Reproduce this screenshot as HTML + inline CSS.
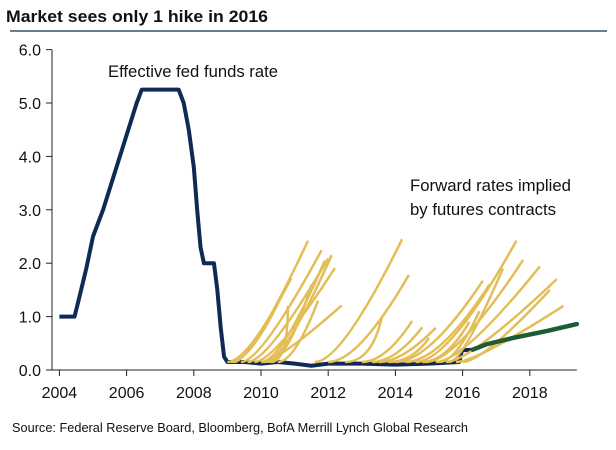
<!DOCTYPE html>
<html><head><meta charset="utf-8"><style>
body{margin:0;background:#fff;}
svg text{font-family:"Liberation Sans",Arial,sans-serif;}
</style></head><body>
<svg width="616" height="445" xmlns="http://www.w3.org/2000/svg">
<text x="6" y="22" font-size="16.5" font-weight="bold" fill="#111" textLength="262" lengthAdjust="spacingAndGlyphs">Market sees only 1 hike in 2016</text>
<line x1="10" y1="31" x2="607" y2="31" stroke="#6a7c92" stroke-width="2"/>
<g id="axes"></g>
<g id="marks"></g>
<text x="108" y="77" font-size="17" fill="#111" textLength="170" lengthAdjust="spacingAndGlyphs">Effective fed funds rate</text>
<text x="410" y="191" font-size="17" fill="#111" textLength="161" lengthAdjust="spacingAndGlyphs">Forward rates implied</text>
<text x="410" y="215" font-size="17" fill="#111" textLength="146" lengthAdjust="spacingAndGlyphs">by futures contracts</text>
<text x="12" y="432" font-size="13" fill="#111" textLength="456" lengthAdjust="spacingAndGlyphs">Source: Federal Reserve Board, Bloomberg, BofA Merrill Lynch Global Research</text>
</svg>
<script>
const yTicks=[0,1,2,3,4,5,6];
const yTickLabels=["0.0","1.0","2.0","3.0","4.0","5.0","6.0"];
const xTicks=[2004,2006,2008,2010,2012,2014,2016,2018];
const xTickLabels=["2004","2006","2008","2010","2012","2014","2016","2018"];
const fedYears=[2004,2004.45,2004.55,2004.8,2005.0,2005.3,2005.6,2005.9,2006.1,2006.3,2006.45,2006.55,2007.0,2007.55,2007.7,2007.85,2008.0,2008.1,2008.2,2008.3,2008.6,2008.7,2008.8,2008.9,2009.0,2009.5,2010.0,2010.5,2011.0,2011.5,2012.0,2013.0,2014.0,2015.0,2015.9,2015.98,2016.3];
const fedValues=[1.0,1.0,1.25,1.9,2.5,3.0,3.6,4.2,4.6,5.0,5.25,5.25,5.25,5.25,5.0,4.5,3.8,3.0,2.3,2.0,2.0,1.5,0.8,0.25,0.15,0.15,0.12,0.15,0.12,0.08,0.12,0.12,0.1,0.12,0.15,0.37,0.38];
const greenYears=[2016.3,2016.7,2017.5,2018.5,2019.4];
const greenValues=[0.38,0.48,0.6,0.73,0.86];
const fwdStart=[2009.0,2009.1,2009.2,2009.4,2009.6,2009.8,2010.0,2010.0,2010.1,2010.2,2010.3,2010.5,2011.6,2012.0,2012.5,2013.0,2013.3,2013.5,2013.8,2014.0,2014.3,2014.6,2014.9,2015.2,2015.5,2015.8,2016.0,2015.6,2015.3,2014.8];
const fwdKnee=[2009.6,2009.7,2009.7,2010.0,2010.2,2010.4,2010.5,2010.6,2010.7,2010.8,2010.8,2011.0,2012.4,2012.9,2013.3,2013.7,2014.0,2014.2,2014.5,2015.0,2015.3,2015.6,2015.8,2016.0,2016.2,2016.4,2016.6,2016.0,2015.8,2015.5];
const fwdEndYear=[2010.9,2010.7,2011.4,2011.8,2012.0,2012.2,2012.4,2011.9,2012.1,2011.5,2010.8,2011.7,2014.2,2014.4,2013.6,2014.5,2014.8,2015.2,2015.0,2016.6,2016.8,2017.6,2017.8,2018.3,2018.8,2019.0,2018.6,2017.2,2016.5,2016.2];
const fwdEndValue=[1.72,1.5,2.42,2.24,2.09,1.91,1.21,2.05,2.15,1.6,1.2,1.3,2.45,1.78,1.0,0.92,0.80,0.79,0.6,1.67,1.6,2.42,2.06,1.94,1.70,1.20,1.5,1.9,1.1,0.9];
const X=y=>59.4+(y-2004)*33.6;
const Y=v=>370-v*53.4;
const NS="http://www.w3.org/2000/svg";
function mk(tag,attrs,parent){const e=document.createElementNS(NS,tag);for(const k in attrs)e.setAttribute(k,attrs[k]);parent.appendChild(e);return e;}
const axes=document.getElementById('axes'),marks=document.getElementById('marks');
const ya=mk('line',{x1:52,y1:Y(6),x2:52,y2:Y(0),stroke:'#222','stroke-width':1},axes);


yTicks.forEach((t,i)=>{
 const l=mk('line',{x1:46,y1:Y(t),x2:52,y2:Y(t),stroke:'#222'},axes);
 
 
 const tx=mk('text',{x:41,y:Y(t)+6,'font-size':16,'text-anchor':'end',fill:'#111'},axes);
 tx.textContent=yTickLabels[i];
 
 
});
const xa=mk('line',{x1:52,y1:Y(0),x2:X(2019.4),y2:Y(0),stroke:'#222','stroke-width':1},axes);


xTicks.forEach((t,i)=>{
 const l=mk('line',{x1:X(t),y1:Y(0),x2:X(t),y2:Y(0)+6,stroke:'#222'},axes);
 
 
 const tx=mk('text',{x:X(t),y:Y(0)+28,'font-size':16,'text-anchor':'middle',fill:'#111'},axes);
 tx.textContent=xTickLabels[i];
 
 
});
const fp=mk('polyline',{points:fedYears.map((y,i)=>X(y)+','+Y(fedValues[i])).join(' '),fill:'none',stroke:'#0f2a55','stroke-width':4,'stroke-linejoin':'round'},marks);


fwdStart.forEach((s,i)=>{
 const base=Y(0.15);
 const d=`M${X(s)},${base} Q${X(fwdKnee[i])},${base} ${X(fwdEndYear[i])},${Y(fwdEndValue[i])}`;
 const p=mk('path',{d:d,fill:'none',stroke:'#e3bd55','stroke-width':2.5},marks);
 
 
});
const gp=mk('polyline',{points:greenYears.map((y,i)=>X(y)+','+Y(greenValues[i])).join(' '),fill:'none',stroke:'#1e5c34','stroke-width':4.5,'stroke-linecap':'round'},marks);


</script>
</body></html>
